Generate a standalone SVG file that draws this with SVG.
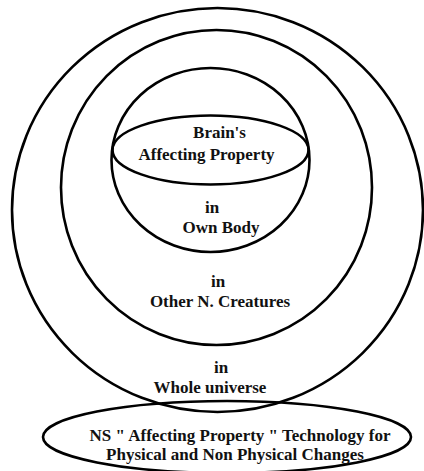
<svg xmlns="http://www.w3.org/2000/svg" width="424" height="471" viewBox="0 0 424 471">
<style>
.sh{fill:none;stroke:#000;stroke-width:2.6}
.t{font-family:"Liberation Serif","Times New Roman",serif;font-weight:bold;font-size:17px;fill:#111;text-anchor:middle}
</style>
<rect width="424" height="471" fill="#fff"/>
<g id="universe"><ellipse class="sh" cx="217.5" cy="210" rx="205.5" ry="202"/>
<text class="t" x="221" y="373">in</text><text class="t" x="210" y="393">Whole universe</text></g>
<g id="creatures"><ellipse class="sh" cx="216.5" cy="187.5" rx="155.5" ry="157.5"/>
<text class="t" x="218" y="287">in</text><text class="t" x="220" y="307">Other N. Creatures</text></g>
<g id="body"><ellipse class="sh" cx="210.5" cy="160" rx="99" ry="92"/>
<text class="t" x="212" y="213">in</text><text class="t" x="221" y="233">Own Body</text></g>
<g id="brain"><ellipse class="sh" cx="210.5" cy="150" rx="98" ry="34.5"/>
<text class="t" x="219.5" y="138">Brain's</text><text class="t" x="206.5" y="160">Affecting Property</text></g>
<g id="technology"><ellipse class="sh" cx="227" cy="437" rx="184" ry="36"/>
<text class="t" x="240" y="441">NS " Affecting Property " Technology for</text><text class="t" x="235" y="460">Physical and Non Physical Changes</text></g>
<g id="connectors"/>
</svg>
